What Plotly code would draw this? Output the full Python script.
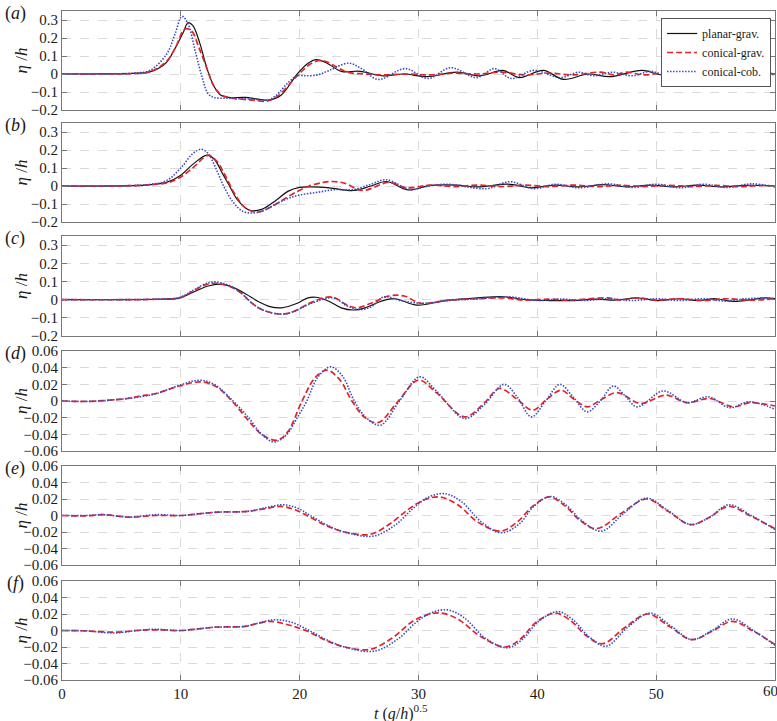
import plotly.graph_objects as go

# ---------------- data ----------------
# Panel (a)
A_T_PLANAR = [0, 4, 6, 7.4, 8.1, 8.8, 9.5, 10.2, 10.6, 11.0, 11.6, 12.2, 12.8, 13.3, 14.0, 15.4, 16.5, 17.4, 18.4, 19.8, 20.7, 21.4, 22.3, 23.5, 25.1, 27, 28.8, 30.7, 33.2, 35.2, 37.1, 38.5, 40.5, 42.2, 44.3, 46.1, 48.8, 50.5, 52.3, 54, 56, 58, 60]
A_PLANAR = [0, 0.001, 0.003, 0.012, 0.03, 0.065, 0.14, 0.23, 0.285, 0.27, 0.17, 0.03, -0.07, -0.115, -0.13, -0.13, -0.14, -0.145, -0.12, 0, 0.06, 0.08, 0.06, 0.015, 0.015, -0.01, 0, -0.015, 0.01, -0.01, 0.02, -0.02, 0.02, -0.03, 0, -0.015, 0.02, -0.005, 0.01, -0.01, 0.01, -0.005, 0]
A_T_CGRAV = [0, 4, 6, 7.4, 8.8, 9.5, 10.35, 10.9, 11.5, 12.2, 12.8, 13.5, 14.5, 16, 17.3, 18.2, 19.8, 21, 21.9, 22.8, 24, 25.5, 27, 29, 31, 33, 35, 37, 39, 41, 43, 45.3, 46.5, 47.5, 49, 51, 53, 55, 57, 59, 60]
A_CGRAV = [0, 0.001, 0.003, 0.012, 0.07, 0.14, 0.25, 0.24, 0.15, 0.03, -0.07, -0.12, -0.135, -0.145, -0.15, -0.12, -0.01, 0.06, 0.075, 0.05, 0.01, 0.0, -0.005, 0.0, -0.005, 0.005, 0.0, 0.01, -0.005, 0.005, -0.005, 0.01, -0.005, 0.01, -0.005, 0.008, -0.005, 0.008, -0.003, 0.005, 0]
A_T_CCOB = [0, 4, 6, 7.4, 8.8, 9.5, 10.1, 10.6, 11.2, 11.8, 12.3, 12.8, 14, 16, 17.3, 18, 19, 19.8, 20.5, 21.5, 22.5, 24.1, 25.2, 26.6, 28.9, 30.8, 32.7, 34.9, 36.4, 37.8, 39.7, 41.9, 43.5, 44.7, 46.3, 48, 49.5, 51, 52.5, 54, 55.5, 57, 58.5, 60]
A_CCOB = [0, 0.001, 0.005, 0.02, 0.11, 0.22, 0.32, 0.28, 0.13, -0.02, -0.11, -0.13, -0.135, -0.14, -0.145, -0.12, -0.05, -0.01, -0.01, -0.005, 0.02, 0.06, 0.03, -0.03, 0.03, -0.025, 0.035, -0.02, 0.03, -0.025, 0.02, -0.02, 0.01, -0.01, 0.01, -0.01, 0.015, -0.01, 0.01, -0.01, 0.01, -0.005, 0.005, -0.005]

# Panel (b)
B_T_PLANAR = [0, 6, 7.5, 8.8, 10, 11, 12.2, 12.8, 13.5, 14.1, 14.8, 15.8, 16.8, 18, 19, 20, 21, 22.5, 24.5, 26, 27.3, 29.1, 31, 33.2, 35, 37.5, 39.5, 41.5, 43.5, 45.5, 47.5, 49.5, 51.5, 53.5, 55.5, 57.5, 60]
B_PLANAR = [0, 0.002, 0.008, 0.02, 0.06, 0.12, 0.172, 0.15, 0.07, 0, -0.08, -0.135, -0.13, -0.08, -0.03, -0.008, -0.005, -0.01, -0.025, 0.0, 0.025, -0.022, 0.003, 0.005, -0.005, 0.01, -0.01, 0.005, -0.005, 0.008, -0.005, 0.005, -0.005, 0.005, -0.005, 0.004, 0]
B_T_CGRAV = [0, 6, 8, 9, 10, 11, 12.3, 13, 13.8, 14.5, 15.4, 16.4, 17.5, 18.5, 19.8, 20.8, 22, 22.8, 23.8, 25.3, 27.5, 29, 31, 33, 35, 37, 39, 41, 43, 45, 47, 49, 51, 53, 55, 57, 59, 60]
B_CGRAV = [0, 0.002, 0.01, 0.02, 0.05, 0.1, 0.17, 0.14, 0.05, -0.04, -0.12, -0.145, -0.12, -0.08, -0.03, 0, 0.02, 0.025, 0.015, -0.025, 0.02, -0.01, 0.005, -0.003, 0.005, -0.003, 0.005, -0.003, 0.005, -0.003, 0.004, -0.003, 0.004, -0.003, 0.003, -0.003, 0.003, 0]
B_T_CCOB = [0, 6, 7.5, 8.8, 10, 11, 11.7, 12.3, 13, 13.6, 14.4, 15.2, 16, 17, 18, 19, 20, 21.5, 23, 24.5, 26, 27.3, 29.3, 30.5, 32.4, 35.7, 37.7, 39.7, 41.5, 43.5, 46, 48, 50, 52, 54, 56, 58, 60]
B_CCOB = [0, 0.003, 0.01, 0.03, 0.1, 0.18, 0.204, 0.18, 0.09, 0, -0.09, -0.14, -0.15, -0.135, -0.1, -0.07, -0.05, -0.035, -0.02, -0.02, 0.01, 0.035, -0.02, -0.005, 0.01, -0.015, 0.024, -0.015, 0.01, -0.01, 0.012, -0.008, 0.01, -0.01, 0.01, -0.008, 0.012, -0.005]

# Panel (c)
C_T_PLANAR = [0, 8, 9.9, 11, 12.3, 13.3, 14.3, 15.5, 16.5, 17.5, 18.5, 19.8, 20.7, 21.4, 22.5, 23.5, 24.5, 25.5, 26.8, 28, 29.9, 32.3, 35, 37.2, 39, 41, 43, 45, 46.5, 48.4, 50, 52, 53.5, 55, 56.5, 58, 59.2, 60]
C_PLANAR = [0, 0.002, 0.01, 0.04, 0.075, 0.085, 0.07, 0.03, -0.01, -0.038, -0.045, -0.02, 0.01, 0.013, -0.01, -0.045, -0.057, -0.045, -0.01, 0.005, -0.03, -0.005, 0.01, 0.016, 0.0, -0.005, -0.005, 0.003, -0.003, 0.01, -0.005, 0.005, -0.005, 0.005, -0.01, 0.0, 0.01, 0.005]
C_T_CGRAV = [0, 8, 9.9, 11, 12, 13, 14, 15, 16, 17, 18.6, 19.5, 21, 22.7, 24, 24.8, 26, 27.5, 28.8, 30.2, 32.5, 35, 37, 39, 41, 42.5, 44, 45.9, 47, 48.4, 50, 52, 54, 56, 58, 60]
C_CGRAV = [0, 0.002, 0.01, 0.045, 0.08, 0.09, 0.075, 0.04, -0.02, -0.06, -0.08, -0.065, -0.015, 0.015, -0.03, -0.045, -0.02, 0.02, 0.02, -0.02, -0.003, 0.005, 0.01, -0.003, 0.003, -0.003, 0.003, 0.01, -0.003, 0.01, -0.003, 0.005, -0.005, 0.005, -0.003, 0.005]
C_T_CCOB = [0, 8, 9.9, 11, 12, 12.9, 14, 15, 16, 17, 18.5, 19.5, 21, 22.8, 24, 25, 26, 27.1, 28.5, 30.3, 32.5, 35, 37.7, 40, 42, 44, 46, 48, 50, 52, 54, 55.8, 57.5, 59.3, 60]
C_CCOB = [0, 0.003, 0.012, 0.05, 0.085, 0.098, 0.08, 0.04, -0.02, -0.06, -0.08, -0.065, -0.02, 0.01, -0.035, -0.055, -0.04, 0.015, -0.005, -0.02, -0.005, 0.005, 0.015, -0.005, 0.003, -0.005, 0.005, -0.005, 0.005, -0.005, 0.005, -0.008, 0.005, 0.008, 0.005]

# Panel (d)
D_T_CGRAV = [0, 2, 4, 5.5, 6.6, 7.9, 9.9, 11.7, 13, 14.3, 15.6, 16.8, 18.1, 19, 20.2, 21.3, 22.3, 23.4, 24.4, 25.5, 26.6, 28.3, 30, 31.5, 33.9, 35.5, 36.8, 38.3, 39.6, 40.8, 42, 43, 44.2, 45.4, 46.7, 48.7, 50.8, 52.6, 54.5, 56.5, 57.9, 60]
D_CGRAV = [0, -0.0005, 0.001, 0.003, 0.006, 0.009, 0.018, 0.023, 0.017, 0.0, -0.022, -0.04, -0.047, -0.037, 0.0, 0.028, 0.037, 0.025, 0.0, -0.02, -0.026, 0.0, 0.025, 0.01, -0.019, -0.003, 0.015, 0.002, -0.011, 0.002, 0.013, 0.003, -0.007, 0.002, 0.01, -0.003, 0.007, -0.002, 0.003, -0.007, -0.002, -0.006]
D_T_CCOB = [0, 2, 4, 5.5, 6.6, 8, 9.9, 11.6, 12.8, 14.4, 15.7, 16.8, 17.8, 18.8, 19.8, 20.6, 21.5, 22.6, 23.6, 24.6, 25.6, 26.8, 28.4, 30.1, 31.5, 33.9, 35.5, 37.2, 38.3, 39.5, 40.7, 41.9, 43, 44.2, 45.3, 46.4, 47.4, 48.4, 50.6, 52.6, 54.4, 56.2, 57.8, 60]
D_CCOB = [0, -0.0005, 0.001, 0.003, 0.005, 0.009, 0.019, 0.025, 0.02, 0, -0.02, -0.04, -0.049, -0.042, -0.02, 0, 0.028, 0.041, 0.03, 0.0, -0.02, -0.029, 0.0, 0.029, 0.012, -0.021, -0.005, 0.02, 0.005, -0.019, 0.0, 0.02, 0.005, -0.013, 0.0, 0.018, 0.006, -0.007, 0.012, -0.002, 0.005, -0.008, -0.001, -0.01]

# Panel (e)
E_T_CGRAV = [0, 2, 3.5, 5.7, 7.9, 10, 11.5, 13, 15.6, 17, 18.4, 19.6, 20.6, 22.2, 23.8, 25.9, 27.6, 29.2, 30.5, 31.8, 33.3, 35, 36.9, 38.3, 39.6, 41, 42.3, 43.6, 45, 47.1, 49.2, 51, 52.9, 54.5, 56.1, 58, 60]
E_CGRAV = [0, -0.0005, 0.001, -0.002, 0.0, 0.0, 0.002, 0.004, 0.005, 0.008, 0.011, 0.007, 0.0, -0.012, -0.02, -0.023, -0.01, 0.008, 0.019, 0.0225, 0.013, -0.008, -0.019, -0.008, 0.011, 0.0225, 0.012, -0.006, -0.016, 0.003, 0.02, 0.005, -0.011, -0.002, 0.011, -0.001, -0.016]
E_T_CCOB = [0, 2, 3.5, 5.7, 7.9, 10, 11.5, 13, 15.6, 17, 18.6, 19.8, 20.9, 22.5, 24, 26.2, 28, 29.5, 30.8, 32.2, 33.6, 35.3, 37, 38.5, 39.7, 41.1, 42.4, 43.8, 45.4, 47.3, 49.2, 51, 52.9, 54.5, 56.1, 58, 60]
E_CCOB = [0, 0.0, 0.001, -0.002, 0.001, 0.0, 0.002, 0.004, 0.005, 0.009, 0.013, 0.009, 0.0, -0.013, -0.021, -0.025, -0.012, 0.008, 0.022, 0.0265, 0.017, -0.008, -0.021, -0.01, 0.011, 0.023, 0.013, -0.007, -0.019, 0.003, 0.021, 0.006, -0.011, -0.002, 0.013, 0.0, -0.017]

# Panel (f)
F_T_CGRAV = [0, 2, 4.5, 6.3, 7.8, 10, 11.5, 12.9, 15.4, 16.3, 17.5, 19, 20.5, 22.2, 23.8, 25.9, 27.9, 29.4, 30.7, 32, 33.4, 35.3, 37.3, 38.6, 39.9, 41.5, 42.8, 44.1, 45.5, 47.4, 49.3, 51.1, 53, 54.7, 56.4, 58.2, 60]
F_CGRAV = [0, -0.0005, -0.002, 0.0, 0.0008, 0.0, 0.002, 0.004, 0.005, 0.008, 0.011, 0.007, 0.0, -0.012, -0.02, -0.023, -0.008, 0.01, 0.019, 0.021, 0.013, -0.008, -0.02, -0.01, 0.01, 0.021, 0.012, -0.006, -0.016, 0.004, 0.02, 0.005, -0.011, -0.001, 0.011, -0.001, -0.017]
F_T_CCOB = [0, 2, 4.5, 6.3, 7.8, 10, 11.5, 12.9, 15.4, 16.5, 17.9, 19.3, 20.8, 22.5, 24, 26.3, 28.3, 29.8, 31, 32.4, 33.8, 35.6, 37.5, 38.8, 40.1, 41.7, 43, 44.3, 45.8, 47.6, 49.5, 51.2, 53, 54.7, 56.4, 58.2, 60]
F_CCOB = [0, -0.0005, -0.003, 0.0, 0.0015, 0.0, 0.002, 0.004, 0.005, 0.009, 0.013, 0.01, 0.0, -0.013, -0.021, -0.025, -0.01, 0.01, 0.021, 0.025, 0.016, -0.009, -0.021, -0.01, 0.011, 0.023, 0.013, -0.007, -0.019, 0.004, 0.021, 0.006, -0.011, 0.0, 0.014, 0.0, -0.018]

PANEL_LABELS = ["a", "b", "c", "d", "e", "f"]
SERIES_NAMES = ["planar-grav.", "conical-grav.", "conical-cob."]
X_TICKS = [0, 10, 20, 30, 40, 50, 60]
Y_TICKS_BIG = [-0.2, -0.1, 0, 0.1, 0.2, 0.3]
Y_TICKS_SMALL = [-0.06, -0.04, -0.02, 0, 0.02, 0.04, 0.06]

# ---------------- figure ----------------
FONT = "Liberation Serif"
TXT = "#1a1a1a"
COL_BLACK = "#111111"
COL_RED = "#e0242a"
COL_BLUE = "#3c4cc0"

panels = [
    [(A_T_PLANAR, A_PLANAR), (A_T_CGRAV, A_CGRAV), (A_T_CCOB, A_CCOB)],
    [(B_T_PLANAR, B_PLANAR), (B_T_CGRAV, B_CGRAV), (B_T_CCOB, B_CCOB)],
    [(C_T_PLANAR, C_PLANAR), (C_T_CGRAV, C_CGRAV), (C_T_CCOB, C_CCOB)],
    [None, (D_T_CGRAV, D_CGRAV), (D_T_CCOB, D_CCOB)],
    [None, (E_T_CGRAV, E_CGRAV), (E_T_CCOB, E_CCOB)],
    [None, (F_T_CGRAV, F_CGRAV), (F_T_CCOB, F_CCOB)],
]
styles = [
    dict(color=COL_BLACK, width=1.2, dash="solid"),
    dict(color=COL_RED, width=1.7, dash="6px,3px"),
    dict(color=COL_BLUE, width=1.6, dash="1.5px,1.5px"),
]

H = 721
MT, MB = 11, 41
PH = H - MT - MB
# pixel extents of each panel (top, bottom)
px_bounds = [(11, 110), (123, 222), (236, 336), (351, 451), (466, 565), (581, 680)]
domains = [[1 - (b - MT) / PH, 1 - (t - MT) / PH] for t, b in px_bounds]
domains[-1][0] = 0.0
domains[0][1] = 1.0

fig = go.Figure()
layout = dict(
    width=777, height=H,
    margin=dict(l=62, r=2, t=MT, b=MB),
    paper_bgcolor="white", plot_bgcolor="white",
    font=dict(family=FONT, size=15, color=TXT),
    showlegend=True,
    legend=dict(x=0.9945, xanchor="right", y=1 - (18 - MT) / PH, yanchor="top",
                bgcolor="white", bordercolor="#555555", borderwidth=1,
                font=dict(family=FONT, size=12, color=TXT),
                tracegroupgap=0, itemwidth=30),
)

annotations = []
for i, series in enumerate(panels):
    xa = "x" if i == 0 else f"x{i+1}"
    ya = "y" if i == 0 else f"y{i+1}"
    for j, s in enumerate(series):
        if s is None:
            continue
        t, v = s
        fig.add_trace(go.Scatter(
            x=t, y=v, mode="lines", name=SERIES_NAMES[j],
            line=dict(shape="spline", smoothing=1.0, **styles[j]),
            showlegend=(i == 0), xaxis=xa, yaxis=ya,
        ))
    xkey = "xaxis" if i == 0 else f"xaxis{i+1}"
    ykey = "yaxis" if i == 0 else f"yaxis{i+1}"
    layout[xkey] = dict(
        domain=[0, 1], anchor=ya, range=[0, 60],
        tickvals=X_TICKS[:-1], ticktext=[str(v) for v in X_TICKS[:-1]],
        showticklabels=(i == 5),
        ticks="inside", ticklen=5, tickcolor="#777777",
        showline=True, linecolor="#777777", linewidth=1, mirror="ticks",
        showgrid=True, gridcolor="#dadada", griddash="dash", gridwidth=1,
        zeroline=False,
        tickfont=dict(family=FONT, size=15, color=TXT),
    )
    if i > 0:
        layout[xkey]["matches"] = "x"
    if i < 3:
        yr = [-0.2, 0.35]
        yt = Y_TICKS_BIG
        ytxt = ["\u22120.2", "\u22120.1", "0", "0.1", "0.2", "0.3"]
    else:
        yr = [-0.06, 0.06]
        yt = Y_TICKS_SMALL
        ytxt = ["\u22120.06", "\u22120.04", "\u22120.02", "0", "0.02", "0.04", "0.06"]
    layout[ykey] = dict(
        domain=domains[i], anchor=xa, range=yr,
        tickvals=yt, ticktext=ytxt,
        ticks="inside", ticklen=5, tickcolor="#777777",
        showline=True, linecolor="#777777", linewidth=1, mirror="ticks",
        showgrid=True, gridcolor="#dadada", griddash="dash", gridwidth=1,
        zeroline=False,
        tickfont=dict(family=FONT, size=15, color=TXT),
    )
    top, bot = domains[i][1], domains[i][0]
    annotations.append(dict(
        text=f"(<i>{PANEL_LABELS[i]}</i>)", xref="paper", yref="paper",
        x=0, y=top, xanchor="center", yanchor="middle", xshift=-47, yshift=-2,
        showarrow=False, font=dict(family=FONT, size=18, color=TXT),
    ))
    annotations.append(dict(
        text="<i>η</i> /<i>h</i>", xref="paper", yref="paper",
        x=0, y=(top + bot) / 2, xanchor="center", yanchor="middle", xshift=-41,
        textangle=-90, showarrow=False,
        font=dict(family=FONT, size=17, color=TXT),
    ))

# last x tick label placed as text so it stays inside the page edge
annotations.append(dict(
    text=str(X_TICKS[-1]), xref="x6", yref="paper", x=X_TICKS[-1], y=0,
    xanchor="center", yanchor="middle", yshift=-11, xshift=-5, showarrow=False,
    font=dict(family=FONT, size=15, color=TXT),
))
annotations.append(dict(
    text="<i>t</i> (<i>g</i>/<i>h</i>)<sup>0.5</sup>", xref="paper", yref="paper",
    x=0.475, y=0, xanchor="center", yanchor="middle", yshift=-32,
    showarrow=False, font=dict(family=FONT, size=16, color=TXT),
))
layout["annotations"] = annotations
fig.update_layout(**layout)
fig.write_html("out.html", config={"displayModeBar": False},
               post_script="document.body.style.margin='0';")
